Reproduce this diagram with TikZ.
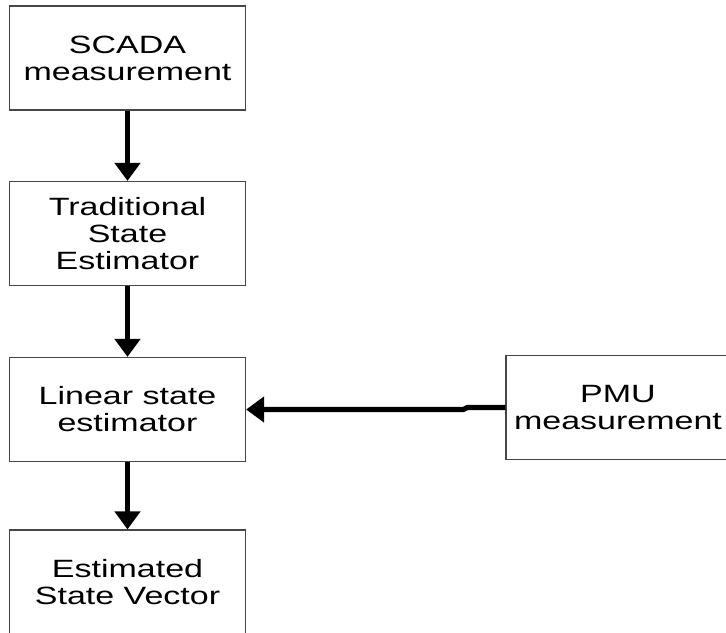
\documentclass[tikz,border=0pt]{standalone}
\usepackage{fontspec}
\setmainfont[FakeStretch=1.36]{Liberation Sans}
\usepackage{tikz}
\usetikzlibrary{arrows.meta}
\definecolor{boxline}{RGB}{70, 70, 70}

\begin{document}
\begin{tikzpicture}[x=0.5pt, y=-0.5pt,
        block/.style={draw=boxline, line width=0.6pt, minimum width=118pt, minimum height=52pt,
            align=center, inner sep=0pt, font=\fontsize{12.5pt}{13.5pt}\selectfont},
        flow/.style={line width=2.6pt, -{Triangle[width=12.5pt, length=9pt]}}]
                \clip (0,0) rectangle (726,632);
                \useasboundingbox (0,0) rectangle (726,632);

                % Left column
                \node[block] (scada) at (127.5, 58) {SCADA\\measurement};
                \node[block] (trad) at (127.5, 233.5) {Traditional\\State\\Estimator};
                \node[block] (lse) at (127.5, 409.5) {Linear state\\estimator};
                \node[block] (est) at (127.5, 582) {Estimated\\State Vector};

                % PMU
                \node[block, minimum width=112pt] (pmu) at (618, 407.5) {PMU\\measurement};

                % Arrows
                \draw[flow] (scada) -- (trad);
                \draw[flow] (trad) -- (lse);
                \draw[flow] (lse) -- (est);
                \draw[flow] (pmu.west) -- ++(-38,0) -- ++(-4,2) coordinate (jog) -- (jog -| lse.east);
            \end{tikzpicture}
\end{document}
